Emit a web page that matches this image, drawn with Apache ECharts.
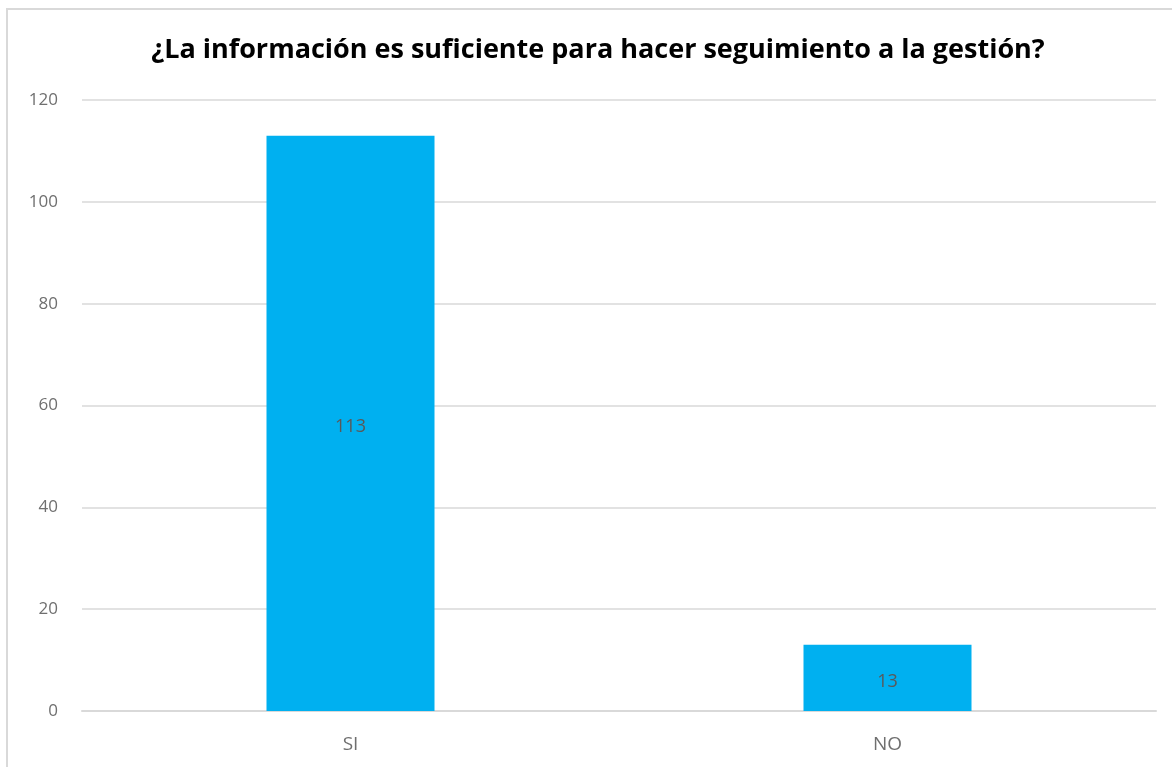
<!DOCTYPE html>
<html>
<head>
<meta charset="utf-8">
<script src="https://cdn.jsdelivr.net/npm/echarts@6/dist/echarts.min.js"></script>
<style>
html,body{margin:0;padding:0;background:#fff;overflow:hidden;}
#frame{position:absolute;left:6px;top:8px;width:1180px;height:780px;border:2px solid #d9d9d9;box-sizing:border-box;}
#chart{position:absolute;left:0;top:0;width:1172px;height:767px;}
</style>
</head>
<body>
<div id="frame"></div>
<div id="chart"></div>
<script>
const titleText = '¿La información es suficiente para hacer seguimiento a la gestión?';
const categories = ['SI', 'NO'];
const values = [113, 13];

const chart = echarts.init(document.getElementById('chart'));
chart.setOption({
  backgroundColor: 'transparent',
  animation: false,
  title: {
    text: titleText,
    left: 593, top: 32, textAlign: 'center',
    textStyle: { fontFamily: 'Open Sans', fontWeight: 'bold', fontSize: 27, color: '#000' }
  },
  grid: { left: 82, right: 16, top: 100, bottom: 56 },
  xAxis: {
    type: 'category', data: categories,
    axisLine: { lineStyle: { color: '#d9d9d9', width: 2 } },
    axisTick: { show: false },
    axisLabel: { color: '#6f6f6f', fontSize: 19, fontFamily: 'Open Sans', margin: 24 }
  },
  yAxis: {
    type: 'value', min: 0, max: 120, interval: 20,
    axisLine: { show: false }, axisTick: { show: false },
    splitLine: { lineStyle: { color: '#d9d9d9', width: 1.5 } },
    axisLabel: { color: '#6f6f6f', fontSize: 17, fontFamily: 'Open Sans', margin: 24 }
  },
  series: [{
    type: 'bar', data: values, barWidth: 168,
    itemStyle: { color: '#00b0f0' },
    label: { show: true, position: 'inside', offset: [0, 4], color: '#595959', fontSize: 18, fontFamily: 'Open Sans' }
  }]
});
</script>
</body>
</html>
